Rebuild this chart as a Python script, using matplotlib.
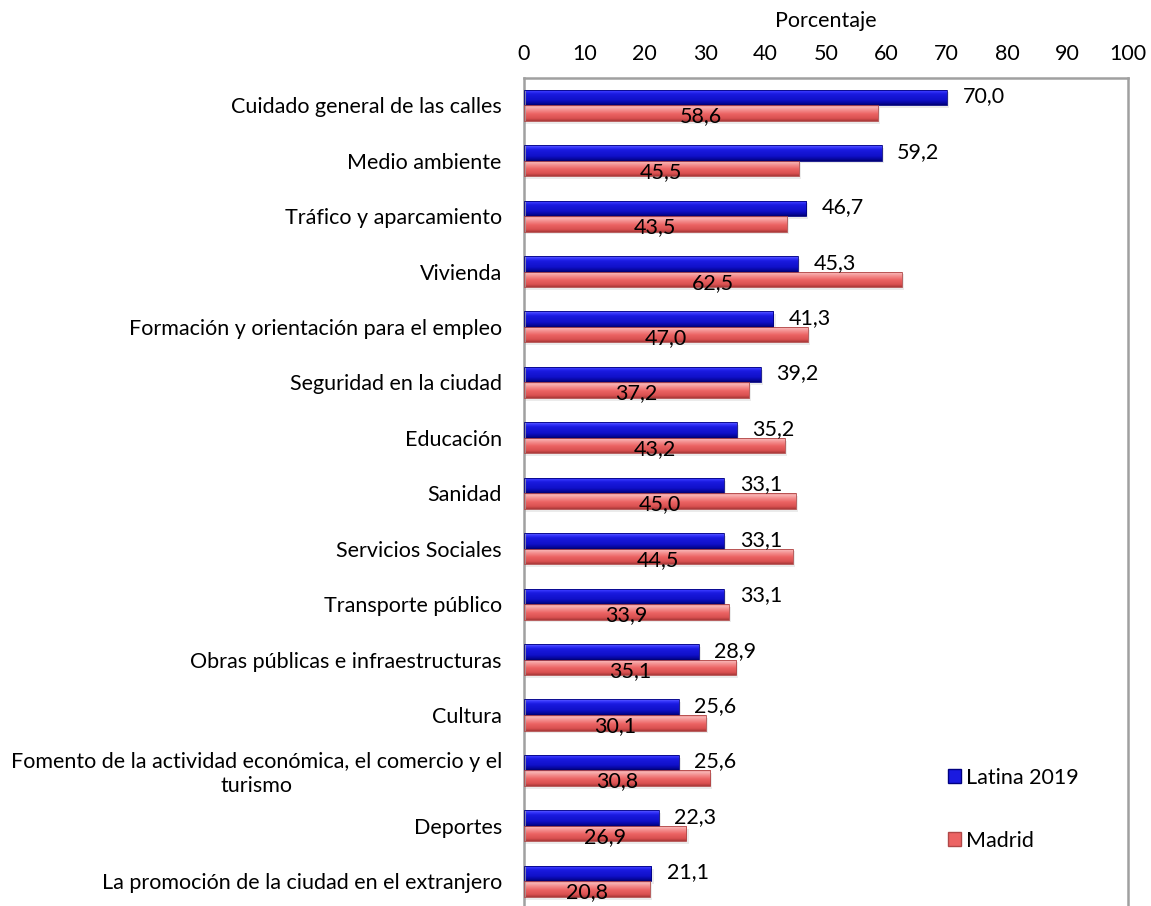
import matplotlib
matplotlib.use("Agg")
import matplotlib.pyplot as plt
import numpy as np
from matplotlib.colors import LinearSegmentedColormap
from matplotlib.patches import Patch

plt.rcParams['font.family'] = ['Lato', 'DejaVu Sans']

categories = [
    "Cuidado general de las calles",
    "Medio ambiente",
    "Tráfico y aparcamiento",
    "Vivienda",
    "Formación y orientación para el empleo",
    "Seguridad en la ciudad",
    "Educación",
    "Sanidad",
    "Servicios Sociales",
    "Transporte público",
    "Obras públicas e infraestructuras",
    "Cultura",
    "Fomento de la actividad económica, el comercio y el\nturismo",
    "Deportes",
    "La promoción de la ciudad en el extranjero",
]
latina = [70.0, 59.2, 46.7, 45.3, 41.3, 39.2, 35.2, 33.1, 33.1, 33.1, 28.9, 25.6, 25.6, 22.3, 21.1]
madrid = [58.6, 45.5, 43.5, 62.5, 47.0, 37.2, 43.2, 45.0, 44.5, 33.9, 35.1, 30.1, 30.8, 26.9, 20.8]
series_names = ["Latina 2019", "Madrid"]
xticks = list(range(0, 101, 10))

W, H = 1151, 906
fig = plt.figure(figsize=(W / 100, H / 100), dpi=100)
left, right, top, bottom = 524, 1128, 77.5, 909
ax = fig.add_axes([left / W, 1 - bottom / H, (right - left) / W, (bottom - top) / H])

n = len(categories)
y = np.arange(n)
bh = 0.28

blue_cmap = LinearSegmentedColormap.from_list("b", [
    (0.0, "#7070ff"), (0.12, "#3a3aff"), (0.3, "#1a1ae0"), (0.7, "#1010c8"), (0.9, "#06069a"), (1.0, "#000070")])
red_cmap = LinearSegmentedColormap.from_list("r", [
    (0.0, "#e88080"), (0.12, "#f8b4b4"), (0.3, "#f49090"), (0.55, "#ec6464"), (0.85, "#d85050"), (1.0, "#a83838")])

grad = np.linspace(0, 1, 64).reshape(-1, 1)

def draw_bars(vals, offset, cmap, edge):
    bars = ax.barh(y + offset, vals, height=bh, color="none", edgecolor=edge, linewidth=0.6, zorder=3)
    for b in bars:
        x0, y0 = b.get_x(), b.get_y()
        w, h = b.get_width(), b.get_height()
        ax.barh(y0 + h / 2 + 0.05, w + 0.4, height=h, left=x0, color="#d8d8d8", alpha=0.5, zorder=1, linewidth=0)
        im = ax.imshow(grad, cmap=cmap, aspect="auto", extent=(x0, x0 + w, y0 + h, y0),
                       zorder=2, interpolation="bilinear")
        im.set_clip_path(b)
    return bars

bars_l = draw_bars(latina, -bh / 2, blue_cmap, "#000080")
bars_m = draw_bars(madrid, bh / 2, red_cmap, "#b04848")

fs = 15.5
for yi, v in zip(y, latina):
    ax.text(v + 2.6, yi - bh / 2 - 0.02, f"{v:.1f}".replace(".", ","), ha="left", va="center",
            fontsize=fs, color="#000000", zorder=5)
for yi, v in zip(y, madrid):
    ax.text(v / 2, yi + bh / 2 + 0.06, f"{v:.1f}".replace(".", ","), ha="center", va="center",
            fontsize=fs, color="#000000", zorder=5)

ax.set_xlim(0, 100)
ax.set_ylim(n - 0.5, -0.5)
ax.xaxis.tick_top()
ax.xaxis.set_label_position("top")
ax.set_xticks(xticks)
ax.set_xticklabels([str(t) for t in xticks], fontsize=fs)
ax.set_xlabel("Porcentaje", fontsize=fs, labelpad=12)
ax.tick_params(axis="x", length=0, pad=9.7)
ax.set_yticks(y)
ax.set_yticklabels(categories, fontsize=fs, multialignment="center")
ax.tick_params(axis="y", length=0, pad=16)

for s in ["top", "left", "right"]:
    ax.spines[s].set_color("#a0a0a0")
    ax.spines[s].set_linewidth(1.8)
ax.spines["bottom"].set_visible(False)

handles = [Patch(facecolor="#1a1ae0", edgecolor="#000080"),
           Patch(facecolor="#ec6464", edgecolor="#b04848")]
leg = ax.legend(handles, series_names, loc="lower left", bbox_to_anchor=(0.67, 0.047),
                frameon=False, fontsize=fs, handlelength=0.6, handleheight=0.6,
                handletextpad=0.25, labelspacing=1.98)

fig.savefig("out.png", dpi=100)
